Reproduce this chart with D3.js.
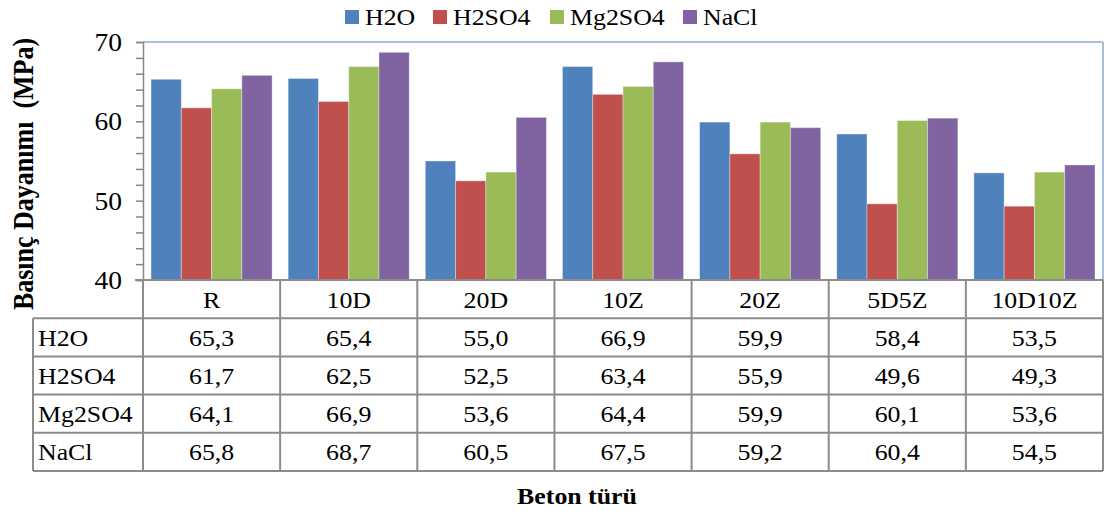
<!DOCTYPE html>
<html><head><meta charset="utf-8">
<script src="https://cdn.jsdelivr.net/npm/d3@7"></script>
<style>body{margin:0;background:#fff}svg{display:block}</style>
</head><body>
<svg id="c" width="1104" height="511"></svg>
<script>
const categories = ["R","10D","20D","10Z","20Z","5D5Z","10D10Z"];
const seriesNames = ["H2O","H2SO4","Mg2SO4","NaCl"];
const H2O    = [65.3,65.4,55.0,66.9,59.9,58.4,53.5];
const H2SO4  = [61.7,62.5,52.5,63.4,55.9,49.6,49.3];
const Mg2SO4 = [64.1,66.9,53.6,64.4,59.9,60.1,53.6];
const NaCl   = [65.8,68.7,60.5,67.5,59.2,60.4,54.5];
const yTicks = [40,50,60,70];
const colors = ["#4F81BD","#C0504D","#9BBB59","#8064A2"];
const values = [H2O,H2SO4,Mg2SO4,NaCl];
const FONT = "Liberation Serif";
const SX = 1.1;

const svg = d3.select("#c");
const L = 143, R = 1103, T = 42, B = 280;
const tableLeft = 33, rowH = 38.2;

function txt(parent, x, y, s, size, anchor, bold, rot){
  const g = parent.append("g").attr("transform",`translate(${x},${y}) scale(${SX},1)` + (rot?` rotate(${rot})`:""));
  return g.append("text").attr("text-anchor",anchor||"start")
    .attr("font-family",FONT).style("font-family",FONT).style("font-size",size+"px")
    .attr("font-weight",bold?"bold":"normal").attr("fill","#000").text(s);
}

const x = d3.scaleBand().domain(categories).range([L,R]).paddingInner(0.117).paddingOuter(0.0585);
const x1 = d3.scaleBand().domain(seriesNames).range([0,x.bandwidth()]);
const y = d3.scaleLinear().domain([40,70]).range([B,T]);

svg.append("line").attr("x1",L).attr("x2",R).attr("y1",T).attr("y2",T).attr("stroke","#A7C0DE").attr("stroke-width",2);
svg.append("line").attr("x1",R).attr("x2",R).attr("y1",T).attr("y2",B).attr("stroke","#A7C0DE").attr("stroke-width",2);

categories.forEach((c,i)=>{
  seriesNames.forEach((s,j)=>{
    svg.append("rect")
      .attr("x", x(c)+x1(s)).attr("width", x1.bandwidth())
      .attr("y", y(values[j][i])).attr("height", B - y(values[j][i]))
      .attr("fill", colors[j]).attr("stroke","rgba(255,255,255,0.35)").attr("stroke-width",1);
  });
});

const ax = svg.append("g").attr("transform",`translate(${L},0)`)
  .call(d3.axisLeft(y).tickValues(d3.range(40,71,2)).tickSize(7).tickFormat(""));
ax.select(".domain").attr("stroke","#868686").attr("stroke-width",1.5);
ax.selectAll(".tick line").attr("stroke","#868686").attr("stroke-width",1.5);
yTicks.forEach(v=> txt(svg, 122, y(v)+9, String(v), 25, "end"));

txt(svg, 33, 174, "Basınç Dayanımı\u00a0\u00a0(MPa)", 26, "middle", true, -90);
txt(svg, 577, 504, "Beton türü", 23.5, "middle", true);

const legX = [345,433,550,683];
seriesNames.forEach((s,j)=>{
  svg.append("rect").attr("x",legX[j]).attr("y",10).attr("width",14).attr("height",14).attr("fill",colors[j]);
  txt(svg, legX[j]+20, 25, s, 23.5);
});

const tg = svg.append("g");
const gridC = "#8C8C8C";
categories.forEach((c,i)=>{
  txt(tg, L + (i+0.5)*x.step(), B+rowH/2+8.5, c, 23.5, "middle");
});
seriesNames.forEach((s,j)=>{
  const ry = B + (j+1)*rowH;
  txt(tg, tableLeft+5, ry+rowH/2+8.5, s, 23.5);
  categories.forEach((c,i)=>{
    txt(tg, L + (i+0.5)*x.step(), ry+rowH/2+8.5, values[j][i].toFixed(1).replace(".",","), 23.5, "middle");
  });
});
for(let k=0;k<=5;k++){
  const yy = B + k*rowH;
  tg.append("line").attr("x1",k===0?L-8:tableLeft).attr("x2",R).attr("y1",yy).attr("y2",yy).attr("stroke",gridC).attr("stroke-width",2);
}
tg.append("line").attr("x1",tableLeft).attr("x2",tableLeft).attr("y1",B+rowH).attr("y2",B+5*rowH).attr("stroke",gridC).attr("stroke-width",2);
for(let i=0;i<=7;i++){
  const xx = L + i*x.step();
  tg.append("line").attr("x1",xx).attr("x2",xx).attr("y1",B).attr("y2",B+5*rowH).attr("stroke",gridC).attr("stroke-width",2);
}
</script>
</body></html>
